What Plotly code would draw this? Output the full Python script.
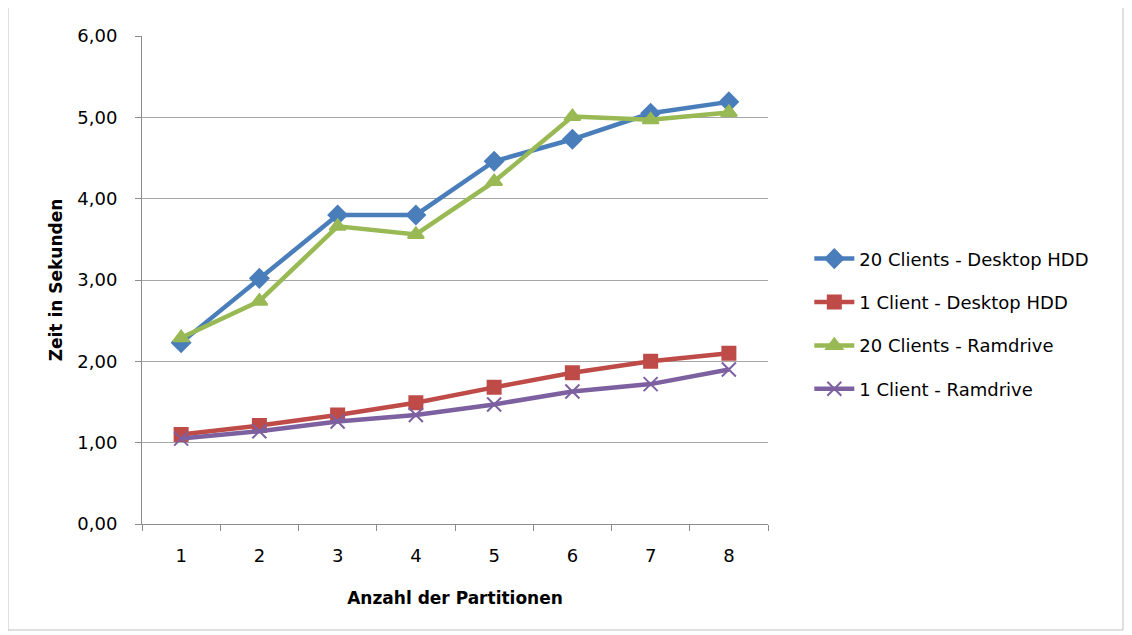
import plotly.graph_objects as go

partitions = [1, 2, 3, 4, 5, 6, 7, 8]
clients20_hdd = [2.23, 3.02, 3.80, 3.80, 4.46, 4.73, 5.05, 5.19]
client1_hdd = [1.10, 1.21, 1.34, 1.49, 1.68, 1.86, 2.00, 2.10]
clients20_ram = [2.29, 2.74, 3.66, 3.56, 4.21, 5.01, 4.97, 5.06]
client1_ram = [1.05, 1.14, 1.26, 1.34, 1.47, 1.63, 1.72, 1.90]

series = [
    ("20 Clients - Desktop HDD", clients20_hdd, "#4A7EBB", "diamond", 14),
    ("1 Client - Desktop HDD", client1_hdd, "#BE4B48", "square", 13),
    ("20 Clients - Ramdrive", clients20_ram, "#98B954", "triangle-up", 14),
    ("1 Client - Ramdrive", client1_ram, "#7D60A0", "x-thin-open", 14),
]

fig = go.Figure()
for i, (name, vals, color, sym, size) in enumerate(series):
    fig.add_trace(go.Scatter(
        x=partitions, y=vals, name=name, mode="lines+markers",
        legendgroup=f"g{i}",
        line=dict(color=color, width=4.5),
        marker=dict(symbol=sym, size=size, color=color,
                    line=dict(color=color, width=2)),
    ))

font_family = "DejaVu Sans, sans-serif"
L, R, T, B = 134, 372, 28, 119
W, H = 1132, 635
pw, ph = W - L - R, H - T - B

fig.update_layout(
    width=W, height=H,
    margin=dict(l=L, r=R, t=T, b=B),
    paper_bgcolor="white", plot_bgcolor="white",
    separators=",.",
    font=dict(family=font_family, size=18, color="#000000"),
    showlegend=True,
    legend=dict(x=1.066, y=0.41, xanchor="left", yanchor="middle",
                font=dict(size=18, color="#000000"),
                traceorder="grouped", tracegroupgap=17,
                itemwidth=40, bgcolor="rgba(0,0,0,0)"),
    xaxis=dict(
        range=[0.5, 8.5], tickvals=partitions, ticktext=[str(p) for p in partitions],
        ticks="", showgrid=False, zeroline=False,
        showline=True, linecolor="#8c8c8c", linewidth=1,
        minor=dict(tickvals=[0.5 + i for i in range(9)], ticks="outside",
                   ticklen=6, tickcolor="#8c8c8c", showgrid=False),
        tickfont=dict(size=18), ticklabelstandoff=15,
        title=dict(text="<b>Anzahl der Partitionen</b>", font=dict(size=17), standoff=27),
    ),
    yaxis=dict(
        range=[0, 6], tickvals=[0, 1, 2, 3, 4, 5, 6], tickformat=".2f",
        ticks="outside", ticklen=6, tickcolor="#8c8c8c",
        showgrid=True, gridcolor="#a6a6a6", gridwidth=1, zeroline=False,
        showline=True, linecolor="#8c8c8c", linewidth=1,
        tickfont=dict(size=18), ticklabelstandoff=14,
        title=dict(text="<b>Zeit in Sekunden</b>", font=dict(size=17), standoff=10),
    ),
)

# outer chart border
fig.add_shape(type="rect", xref="paper", yref="paper",
              x0=(0 - L) / pw, x1=(1115 - L) / pw,
              y0=(H - B - 622) / ph, y1=(H - B + 1) / ph,
              line=dict(color="#bfbfbf", width=1), layer="below")

fig.write_html("out.html")
